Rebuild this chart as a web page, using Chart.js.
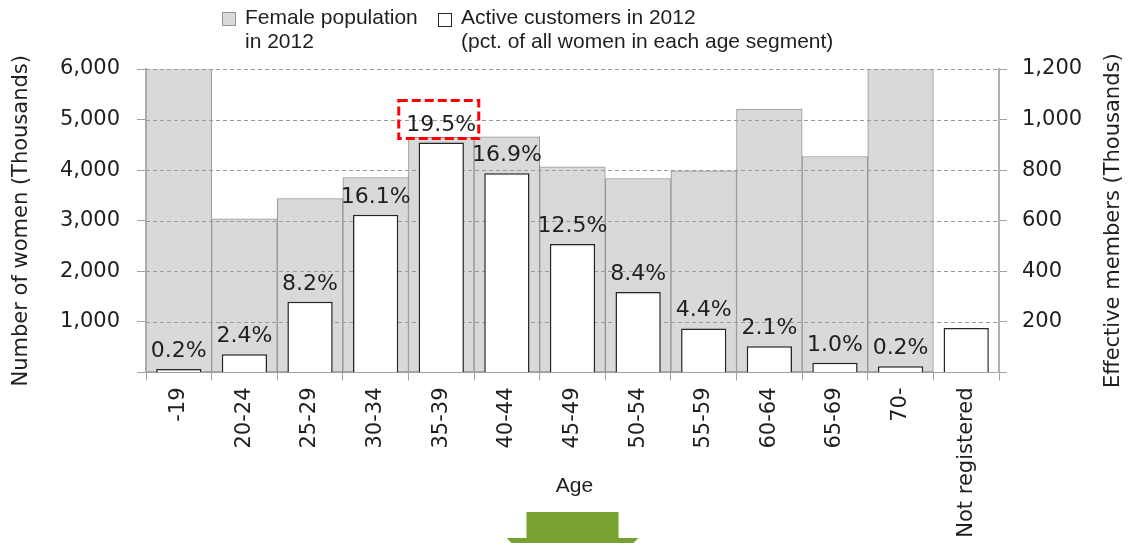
<!DOCTYPE html>
<html>
<head>
<meta charset="utf-8">
<script src="https://cdn.jsdelivr.net/npm/chart.js@4/dist/chart.umd.min.js"></script>
<style>
  html, body { margin: 0; padding: 0; background: #fff; }
  #wrap { width: 1128px; height: 543px; }
</style>
</head>
<body>
<div id="wrap"><canvas id="ageChart" width="1128" height="543"></canvas></div>
<script>
// categories and values (thousands)
const ageGroups = ['-19', '20-24', '25-29', '30-34', '35-39', '40-44', '45-49',
                   '50-54', '55-59', '60-64', '65-69', '70-', 'Not registered'];
const femalePopulation = [7000, 3040, 3440, 3855, 4650, 4660, 4066, 3835, 3985, 5210, 4270, 12500, null];
const activeCustomers = [14, 72, 280, 624, 909, 788, 508, 318, 174, 104, 39, 25, 176];
const activeShare = [0.2, 2.4, 8.2, 16.1, 19.5, 16.9, 12.5, 8.4, 4.4, 2.1, 1.0, 0.2, null];

const womenTicks = [0, 1000, 2000, 3000, 4000, 5000, 6000];
const memberTicks = [0, 200, 400, 600, 800, 1000, 1200];

const TEXT = '#1f1f1f';
const AXIS = '#a0a0a0';
const numFont = 'DejaVu Sans';
const labelFont = 'Liberation Sans';

const fmt = v => (v === 0 ? '' : v.toLocaleString('en-US'));

// dashed grid goes over the grey bars but under the white ones
const dashedGrid = {
  id: 'dashedGrid',
  beforeDatasetDraw(chart, args) {
    if (args.index !== 1) return;
    const { ctx, chartArea } = chart;
    const y = chart.scales.y;
    ctx.save();
    ctx.beginPath();
    ctx.setLineDash([4, 3]);
    ctx.strokeStyle = '#9a9a9a';
    ctx.lineWidth = 1;
    y.ticks.forEach(t => {
      if (t.value === 0) return;
      const py = Math.round(y.getPixelForValue(t.value)) + 0.5;
      ctx.moveTo(chartArea.left, py);
      ctx.lineTo(chartArea.right, py);
    });
    ctx.stroke();
    ctx.restore();
  }
};

// percentage labels over the white bars, peak one boxed in red
const shareLabels = {
  id: 'shareLabels',
  afterDatasetsDraw(chart) {
    const { ctx } = chart;
    const meta = chart.getDatasetMeta(1);
    const peak = activeShare.indexOf(Math.max(...activeShare.filter(v => v != null)));
    ctx.save();
    ctx.font = '22px "' + numFont + '"';
    ctx.fillStyle = TEXT;
    ctx.textAlign = 'center';
    ctx.textBaseline = 'alphabetic';
    activeShare.forEach((v, i) => {
      if (v == null) return;
      const bar = meta.data[i];
      ctx.fillText(v.toFixed(1) + '%', bar.x, bar.y - 12);
    });
    const pb = meta.data[peak];
    ctx.setLineDash([9, 4]);
    ctx.lineWidth = 3;
    ctx.strokeStyle = '#ff0000';
    ctx.strokeRect(pb.x - 42.5, pb.y - 42, 80, 38);
    ctx.restore();
  }
};

// legend, right axis title, axis caption and the arrow underneath
const extras = {
  id: 'extras',
  afterDraw(chart) {
    const { ctx, chartArea } = chart;
    const ds = chart.data.datasets;
    ctx.save();
    const items = [
      { x: 222, y: 12, ds: ds[0] },
      { x: 438, y: 13, ds: ds[1] }
    ];
    ctx.font = '21px "' + labelFont + '"';
    ctx.textBaseline = 'alphabetic';
    ctx.textAlign = 'left';
    items.forEach(it => {
      ctx.fillStyle = it.ds.backgroundColor;
      ctx.fillRect(it.x, it.y, 13, 13);
      ctx.strokeStyle = it.ds.borderColor;
      ctx.lineWidth = 1;
      ctx.strokeRect(it.x + 0.5, it.y + 0.5, 13, 13);
      ctx.fillStyle = TEXT;
      it.ds.label.split('\n').forEach((line, k) => {
        ctx.fillText(line, it.x + 23, 24 + k * 24);
      });
    });

    const cx = (chartArea.left + chartArea.right) / 2;
    const cy = (chartArea.top + chartArea.bottom) / 2;
    ctx.textAlign = 'center';
    ctx.textBaseline = 'middle';
    ctx.fillText('Age', cx + 2, 486);

    // right title reads bottom-to-top like the left one
    ctx.save();
    ctx.translate(1114, cy);
    ctx.rotate(-Math.PI / 2);
    ctx.font = '21px "' + numFont + '"';
    ctx.fillText('Effective members (Thousands)', 0, 0);
    ctx.restore();

    ctx.fillStyle = '#77a22f';
    ctx.fillRect(cx - 46, 512, 92, 27);
    ctx.beginPath();
    ctx.moveTo(cx - 66, 538);
    ctx.lineTo(cx + 66, 538);
    ctx.lineTo(cx, 604);
    ctx.closePath();
    ctx.fill();
    ctx.restore();
  }
};

new Chart(document.getElementById('ageChart'), {
  type: 'bar',
  data: {
    labels: ageGroups,
    datasets: [
      {
        label: 'Female population\nin 2012',
        data: femalePopulation,
        yAxisID: 'y',
        order: 2,
        grouped: false,
        backgroundColor: '#d9d9d9',
        borderColor: '#949494',
        borderWidth: 1,
        borderSkipped: false,
        barPercentage: 1,
        categoryPercentage: 1,
        clip: { left: 2, right: 2, top: 0, bottom: 2 }
      },
      {
        label: 'Active customers in 2012\n(pct. of all women in each age segment)',
        data: activeCustomers,
        yAxisID: 'y2',
        order: 1,
        grouped: false,
        backgroundColor: '#ffffff',
        borderColor: '#262626',
        borderWidth: 1.5,
        borderSkipped: 'start',
        barPercentage: 0.69,
        categoryPercentage: 1
      }
    ]
  },
  options: {
    responsive: false,
    animation: false,
    layout: { padding: { top: 69, left: 0, right: 0, bottom: 0 } },
    plugins: {
      legend: { display: false },
      tooltip: { enabled: false }
    },
    scales: {
      x: {
        offset: true,
        grid: { display: true, drawOnChartArea: false, drawTicks: true, tickLength: 8, color: AXIS },
        border: { color: AXIS, width: 1 },
        ticks: {
          autoSkip: false, maxRotation: 90, minRotation: 90, padding: 7,
          color: TEXT, font: { family: numFont, size: 21 }
        },
        afterFit: s => { s.height = 170.5; }
      },
      y: {
        position: 'left',
        min: 0,
        max: 6000,
        afterBuildTicks: s => { s.ticks = womenTicks.map(v => ({ value: v })); },
        grid: { drawOnChartArea: false, drawTicks: true, tickLength: 9, color: AXIS },
        border: { color: '#b0b0b0', width: 2 },
        ticks: { padding: 17, color: TEXT, font: { family: numFont, size: 21 }, callback: fmt },
        title: {
          display: true, text: 'Number of women (Thousands)', color: TEXT,
          font: { family: numFont, size: 21 }, padding: { top: 9, bottom: 0 }
        },
        afterFit: s => { s.width = 146; }
      },
      y2: {
        position: 'right',
        min: 0,
        max: 1200,
        afterBuildTicks: s => { s.ticks = memberTicks.map(v => ({ value: v })); },
        grid: { drawOnChartArea: false, drawTicks: true, tickLength: 8, color: AXIS },
        border: { color: '#b0b0b0', width: 2 },
        ticks: { padding: 15, color: TEXT, font: { family: numFont, size: 21 }, callback: fmt },
        afterFit: s => { s.width = 129; }
      }
    }
  },
  plugins: [dashedGrid, shareLabels, extras]
});
</script>
</body>
</html>
